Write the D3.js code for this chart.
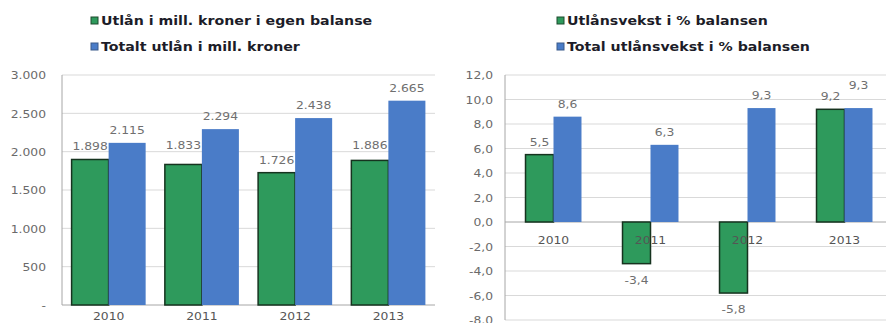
<!DOCTYPE html>
<html>
<head>
<meta charset="utf-8">
<script src="https://cdn.jsdelivr.net/npm/d3@7"></script>
<style>
  html, body { margin: 0; padding: 0; background: #fff; }
  svg { display: block; }
  text { font-family: "DejaVu Sans", Verdana, sans-serif; }
</style>
</head>
<body>
<svg id="chart" width="886" height="323"></svg>
<script>
// Years shown on both panels
const years = ["2010", "2011", "2012", "2013"];

// Left panel: lending in million NOK
const loanSeries = ["Utlån i mill. kroner i egen balanse", "Totalt utlån i mill. kroner"];
const ownBalance = [1898, 1833, 1726, 1886];
const totalLoans = [2115, 2294, 2438, 2665];
const loanTicks = [0, 500, 1000, 1500, 2000, 2500, 3000];

// Right panel: lending growth in percent
const growthSeries = ["Utlånsvekst i % balansen", "Total utlånsvekst i % balansen"];
const growthOwn = [5.5, -3.4, -5.8, 9.2];
const growthTotal = [8.6, 6.3, 9.3, 9.3];
const growthTicks = [-8, -6, -4, -2, 0, 2, 4, 6, 8, 10, 12];

const GREEN = "#2e9a5c", GREEN_EDGE = "#16331f", BLUE = "#4a7cc8";
const GRID = "#d9d9d9", AXIS = "#a6a6a6", TICK_TXT = "#6a6a6a", LBL_TXT = "#6f6f6f";
const NUM_SIZE = 11, NUM_WIDEN = 1.12, LEG_SIZE = 12, LEG_WIDEN = 1.18;

const no = d3.formatLocale({ decimal: ",", thousands: ".", grouping: [3], currency: ["", ""], minus: "-" });
const fmtThousands = no.format(",d");
const fmtOne = no.format(".1f");

const svg = d3.select("#chart");

// widen glyphs horizontally, keeping the anchor in place
function widen(sel, k) {
  sel.each(function () {
    const w = this.getComputedTextLength();
    d3.select(this).attr("textLength", w * k).attr("lengthAdjust", "spacingAndGlyphs");
  });
}

function panel(cfg) {
  const g = svg.append("g");
  const y = d3.scaleLinear().domain(cfg.domain).range([cfg.bottom, cfg.top]);
  const x0 = d3.scaleBand().domain(years).range([cfg.left, cfg.right]);
  const groupW = x0.bandwidth() * cfg.groupFrac;
  const x1 = d3.scaleBand().domain([0, 1]).range([0, groupW]);

  // horizontal gridlines
  g.append("g").selectAll("line").data(cfg.ticks).join("line")
    .attr("x1", cfg.left).attr("x2", Math.min(cfg.right, 886))
    .attr("y1", d => y(d)).attr("y2", d => y(d))
    .attr("stroke", d => d === 0 ? AXIS : GRID).attr("stroke-width", 1);

  // value axis
  const yAxis = d3.axisLeft(y).tickValues(cfg.ticks).tickSize(0).tickPadding(0).tickFormat(cfg.tickFmt);
  const ya = g.append("g").attr("transform", `translate(${cfg.tickX},0)`).call(yAxis);
  ya.select(".domain").remove();
  ya.selectAll("text").attr("fill", TICK_TXT).attr("font-size", NUM_SIZE).attr("dy", "0.35em")
    .attr("font-family", '"DejaVu Sans", sans-serif').call(widen, NUM_WIDEN);
  g.append("line").attr("x1", cfg.left).attr("x2", cfg.left).attr("y1", cfg.top).attr("y2", cfg.bottom)
    .attr("stroke", AXIS);

  // bars
  const series = [cfg.a, cfg.b];
  series.forEach((vals, si) => {
    g.append("g").selectAll("rect").data(vals.map((v, i) => ({ v, i }))).join("rect")
      .attr("x", d => x0(years[d.i]) + (x0.bandwidth() - groupW) / 2 + x1(si))
      .attr("width", x1.bandwidth())
      .attr("y", d => Math.min(y(d.v), y(0)))
      .attr("height", d => Math.abs(y(d.v) - y(0)))
      .attr("fill", si === 0 ? GREEN : BLUE)
      .attr("stroke", si === 0 ? GREEN_EDGE : "none")
      .attr("stroke-width", si === 0 ? 1.5 : 0);
  });

  // category axis labels, drawn over the bars
  const xa = g.append("g").attr("transform", `translate(0,${cfg.catY})`)
    .call(d3.axisBottom(x0).tickSize(0).tickPadding(0));
  xa.select(".domain").remove();
  xa.selectAll("text").attr("fill", "#555").attr("font-size", NUM_SIZE).attr("dy", "0.35em").attr("y", 0)
    .attr("font-family", '"DejaVu Sans", sans-serif').call(widen, NUM_WIDEN);

  // data labels
  series.forEach((vals, si) => {
    g.append("g").selectAll("text").data(vals.map((v, i) => ({ v, i }))).join("text")
      .attr("x", d => x0(years[d.i]) + (x0.bandwidth() - groupW) / 2 + x1(si) + x1.bandwidth() / 2)
      .attr("y", d => d.v >= 0 ? y(d.v) - 9 - (cfg.nudge[si][d.i] || 0) : y(d.v) + 20)
      .attr("text-anchor", "middle").attr("font-size", NUM_SIZE).attr("fill", LBL_TXT)
      .text(d => cfg.valFmt(d.v))
      .call(widen, NUM_WIDEN);
  });

  // legend
  const lg = g.append("g");
  cfg.names.forEach((n, i) => {
    const ly = 21 + i * 26;
    lg.append("rect").attr("x", cfg.legX).attr("y", ly - 4).attr("width", 7).attr("height", 7)
      .attr("fill", i === 0 ? GREEN : BLUE).attr("stroke", i === 0 ? "#1d4a2c" : "#3a5a8a").attr("stroke-width", 1);
    lg.append("text").attr("x", cfg.legX + 10).attr("y", ly).attr("dy", "0.35em")
      .attr("font-size", LEG_SIZE).attr("font-weight", "bold").attr("fill", "#1c1c28").text(n)
      .call(widen, LEG_WIDEN);
  });
}

panel({
  domain: [0, 3000], ticks: loanTicks, top: 75, bottom: 305, left: 62, right: 435,
  tickX: 46, catY: 316, groupFrac: 0.794,
  tickFmt: d => d === 0 ? "-" : fmtThousands(d), valFmt: fmtThousands,
  a: ownBalance, b: totalLoans, names: loanSeries, legX: 91,
  nudge: [[0, 6, 0, 2], [0, 0, 0, 0]]
});

panel({
  domain: [-8, 12], ticks: growthTicks, top: 75, bottom: 320, left: 505, right: 893,
  tickX: 493, catY: 240, groupFrac: 0.577,
  tickFmt: fmtOne, valFmt: fmtOne,
  a: growthOwn, b: growthTotal, names: growthSeries, legX: 557,
  nudge: [[0, 0, 0, 0], [0, 0, 0, 10]]
});
</script>
</body>
</html>
